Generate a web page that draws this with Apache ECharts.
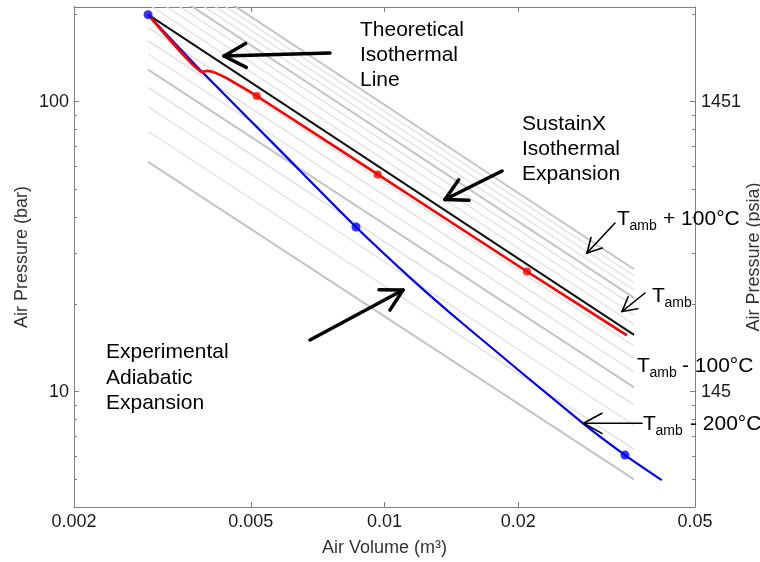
<!DOCTYPE html>
<html>
<head>
<meta charset="utf-8">
<script src="https://cdn.jsdelivr.net/npm/echarts@6/dist/echarts.min.js"></script>
<style>
  html, body { margin: 0; background: #fff; }
  #chart { width: 760px; height: 562px; }
</style>
</head>
<body>
<div id="chart"></div>
<script>
// Air volume (m^3) / air pressure (bar)
const adiabaticV = [0.002936, 0.003878, 0.005818, 0.008627, 0.01161, 0.01504, 0.02803, 0.03478, 0.04208];
const adiabaticP = [199.5, 127.0, 67.9, 36.95, 24.15, 17.11, 7.75, 6.04, 4.95];
const adiabaticDotV = [0.002936, 0.008627, 0.03478];
const adiabaticDotP = [199.5, 36.95, 6.04];

const sustainV = [0.002936, 0.00388, 0.003978, 0.004118, 0.004264, 0.004414, 0.004729, 0.005157, 0.009656, 0.02093, 0.03514];
const sustainP = [199.5, 126.7, 127.7, 126.4, 123.7, 120.5, 113.3, 104.6, 56.1, 25.95, 15.64];
const sustainDotV = [0.005157, 0.009656, 0.02093];
const sustainDotP = [104.6, 56.1, 25.95];

const theoryV = [0.002936, 0.03646];
const theoryP = [199.5, 15.7];

// background isotherms, 25 degC apart around ambient
const isoOffsets = [-200, -175, -150, -125, -100, -75, -50, -25, 25, 50, 75, 100, 125, 150, 175, 200];
const isoV = [0.002936, 0.03646];
const isoStartP = [62, 79, 96, 112, 129, 146, 162, 180, 217, 234, 251, 268, 285, 302, 319, 336];
const isoEndP = [4.98, 6.32, 7.66, 9.0, 10.34, 11.68, 13.02, 14.36, 17.04, 18.38, 19.72, 21.06, 22.4, 23.74, 25.08, 26.42];

const xTicks = [0.002, 0.005, 0.01, 0.02, 0.05];
const yMajor = [10, 100];
const yMinor = [4, 5, 6, 7, 8, 9, 20, 30, 40, 50, 60, 70, 80, 90, 200];
const barToPsi = 14.51;

const FONT = '"Liberation Sans", Arial, sans-serif';
const AXIS = '#808080';

const zip = (xs, ys) => xs.map((x, i) => [x, ys[i]]);

const isoSeries = isoOffsets.map((off, i) => ({
  type: 'line',
  data: [[isoV[0], isoStartP[i]], [isoV[1], isoEndP[i]]],
  symbol: 'none',
  silent: true,
  lineStyle: {
    color: off % 100 === 0 ? '#c4c4c4' : '#e0e0e0',
    width: off % 100 === 0 ? 2 : 1.3
  },
  z: 1
}));

function logAxis(pos, ticks, len, labels, extra) {
  return Object.assign({
    type: 'log',
    position: pos,
    nameMoveOverlap: false,
    axisLine: { show: true, lineStyle: { color: AXIS, width: 1 } },
    axisTick: { show: true, inside: true, length: len, customValues: ticks, lineStyle: { color: AXIS } },
    axisLabel: labels
      ? Object.assign({ customValues: ticks, fontSize: 18, fontFamily: FONT, color: '#1a1a1a' }, labels)
      : { show: false },
    splitLine: { show: false },
    minorTick: { show: false }
  }, extra);
}

const xRange = { min: 0.002, max: 0.05 };
const yRange = { min: 4, max: 212 };
const nameStyle = { fontSize: 18, fontFamily: FONT, color: '#333' };

// open arrow: shaft plus two head strokes, all plain line elements
function arrow(x1, y1, x2, y2, w, len) {
  const a = Math.atan2(y2 - y1, x2 - x1);
  const s = 0.5;
  const seg = (ax, ay, bx, by) => ({
    type: 'line', silent: true, z: 100,
    shape: { x1: ax, y1: ay, x2: bx, y2: by },
    style: { stroke: '#000', lineWidth: w, lineCap: 'round' }
  });
  return [
    seg(x1, y1, x2, y2),
    seg(x2, y2, x2 - len * Math.cos(a - s), y2 - len * Math.sin(a - s)),
    seg(x2, y2, x2 - len * Math.cos(a + s), y2 - len * Math.sin(a + s))
  ];
}

function text(str, x, y, size, extra) {
  return {
    type: 'text', silent: true, z: 100,
    style: Object.assign({ text: str, x: x, y: y, fill: '#000', font: size + 'px ' + FONT, verticalAlign: 'middle', align: 'left' }, extra)
  };
}

function tLabel(x, y, rest, restX) {
  return [
    text('T', x, y, 21),
    text('amb', x + 12.5, y + 7, 14),
    rest ? text(rest, restX, y, 21) : null
  ].filter(Boolean);
}

const graphics = [].concat(
  text('Theoretical\nIsothermal\nLine', 360, 55, 21, { lineHeight: 25 }),
  text('SustainX\nIsothermal\nExpansion', 522, 149, 21, { lineHeight: 25 }),
  text('Experimental\nAdiabatic\nExpansion', 106, 378, 21, { lineHeight: 25.5 }),
  tLabel(617, 219, '+ 100°C', 663),
  tLabel(652, 296, null),
  tLabel(637, 366, '- 100°C', 682),
  tLabel(643, 424, '- 200°C', 690),
  arrow(330, 53, 224, 56, 3.5, 25),
  arrow(502, 171, 445, 199.5, 3.5, 24),
  arrow(310, 340, 403, 290, 3.5, 24),
  arrow(615, 223, 587, 253, 1.6, 16),
  arrow(645, 293, 622, 311.5, 1.6, 16),
  arrow(642, 423.3, 583.5, 423.3, 1.6, 21)
);

const chart = echarts.init(document.getElementById('chart'), null, { renderer: 'canvas' });

chart.setOption({
  animation: false,
  backgroundColor: '#fff',
  grid: { left: 74, right: 65, top: 7, bottom: 55, containLabel: false, outerBoundsMode: 'none' },
  xAxis: [
    logAxis('bottom', xTicks, 5, { margin: 6, formatter: (v) => String(+(+v).toPrecision(3)) },
      Object.assign({ name: 'Air Volume (m³)', nameLocation: 'middle', nameGap: 32, nameTextStyle: nameStyle }, xRange)),
    logAxis('top', xTicks, 5, null, xRange)
  ],
  yAxis: [
    logAxis('left', yMajor, 5, { margin: 5, formatter: (v) => String(Math.round(v)) },
      Object.assign({ name: 'Air Pressure (bar)', nameLocation: 'middle', nameRotate: 90, nameGap: 43, nameTextStyle: nameStyle }, yRange)),
    logAxis('left', yMinor, 3, null, yRange),
    logAxis('right', yMajor, 5, { margin: 6, formatter: (v) => String(Math.round(v * barToPsi)) },
      Object.assign({ name: 'Air Pressure (psia)', nameLocation: 'middle', nameRotate: 90, nameGap: 50, nameTextStyle: nameStyle }, yRange)),
    logAxis('right', yMinor, 3, null, yRange)
  ],
  series: isoSeries.concat([
    {
      type: 'line', data: zip(theoryV, theoryP), symbol: 'none', silent: true,
      lineStyle: { color: '#111', width: 2 }, z: 3
    },
    {
      type: 'line', data: zip(adiabaticV, adiabaticP), symbol: 'none', silent: true, smooth: 0.2,
      lineStyle: { color: '#0000ff', width: 2.2 }, z: 4
    },
    {
      type: 'line', data: zip(sustainV, sustainP), symbol: 'none', silent: true, smooth: 0.1,
      lineStyle: { color: '#ff0000', width: 2.6 }, z: 5
    },
    {
      type: 'scatter', data: zip(adiabaticDotV, adiabaticDotP), symbol: 'circle', symbolSize: 9, silent: true,
      itemStyle: { color: '#0000ff' }, z: 6
    },
    {
      type: 'scatter', data: zip(sustainDotV, sustainDotP), symbol: 'circle', symbolSize: 8, silent: true,
      itemStyle: { color: '#ff0000' }, z: 6
    }
  ]),
  graphic: { elements: graphics, z: 100 }
});
</script>
</body>
</html>
